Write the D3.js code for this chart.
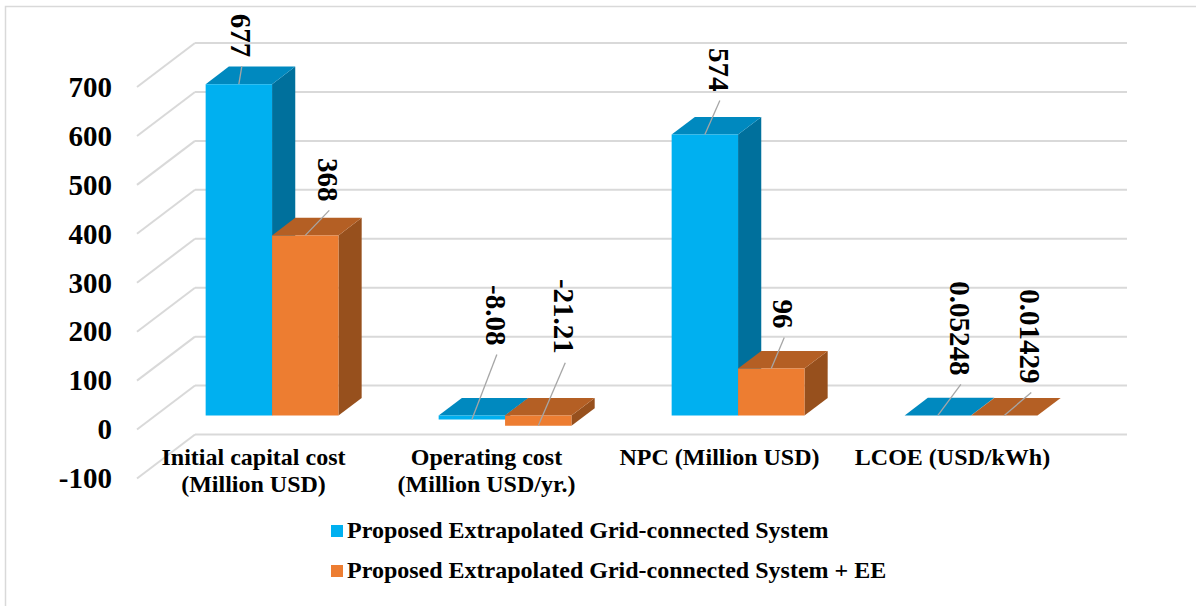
<!DOCTYPE html>
<html>
<head>
<meta charset="utf-8">
<script src="https://cdn.jsdelivr.net/npm/d3@7"></script>
</head>
<body style="margin:0;padding:0;background:#ffffff">
<svg id="chart" width="1196" height="606"></svg>
<script>
// ---- data ----
const categories = [
  "Initial capital cost (Million USD)",
  "Operating cost (Million USD/yr.)",
  "NPC (Million USD)",
  "LCOE (USD/kWh)"
];
const categoryLines = [
  ["Initial capital cost", "(Million USD)"],
  ["Operating cost", "(Million USD/yr.)"],
  ["NPC (Million USD)"],
  ["LCOE (USD/kWh)"]
];
const seriesNames = [
  "Proposed Extrapolated Grid-connected System",
  "Proposed Extrapolated Grid-connected System + EE"
];
const gridSystem = [677, -8.08, 574, 0.05248];
const gridSystemEE = [368, -21.21, 96, 0.01429];
const yTicks = [-100, 0, 100, 200, 300, 400, 500, 600, 700];

// ---- layout & style ----
const FONT = "Liberation Serif";
const frontLeft = 137, frontRight = 1069;      // front plane of the floor
const depthX = 58, depthY = -44;                // full depth offset of the box
const barD0 = 0.32, barD1 = 0.72;               // bar slab within the depth
const palette = [
  { front: "#00B0F0", top: "#0089BF", side: "#00709C" },
  { front: "#ED7D31", top: "#B45F24", side: "#97501D" }
];
// data-label placement (label foot relative to the leader start)
const labelNudge = [
  [[2, -27], [24, -74], [14, -43], [22, -40]],
  [[23, -34], [26, -72], [12, -40], [26, -32]]
];

const svg = d3.select("#chart").style("display", "block");

// outer frame
svg.append("rect")
  .attr("x", 5.5).attr("y", 6.5)
  .attr("width", 1230).attr("height", 640)
  .attr("fill", "none").attr("stroke", "#d9d9d9").attr("stroke-width", 1.5);

const y = d3.scaleLinear().domain([-100, 700]).range([478.5, 87]);
const x0 = d3.scaleBand().domain(categories).range([frontLeft, frontRight])
  .paddingInner(0.43).paddingOuter(0.215);
const x1 = d3.scaleBand().domain(d3.range(seriesNames.length)).range([0, x0.bandwidth()]);

const proj = (x, v, d) => [x + d * depthX, y(v) + d * depthY];

// back wall gridlines and side wall diagonals
const grid = svg.append("g").attr("stroke", "#d9d9d9").attr("stroke-width", 2).attr("fill", "none");
yTicks.forEach(t => {
  const [bx, by] = proj(frontLeft, t, 1);
  const [ex] = proj(frontRight, t, 1);
  grid.append("line").attr("x1", frontLeft).attr("y1", y(t)).attr("x2", bx).attr("y2", by);
  grid.append("line").attr("x1", bx).attr("y1", by).attr("x2", ex).attr("y2", by);
});

// value axis labels on the front plane
const axis = d3.axisLeft(y).tickValues(yTicks).tickSize(0).tickPadding(25).tickFormat(d => String(d));
const axisG = svg.append("g").attr("transform", `translate(${frontLeft},0)`).call(axis);
axisG.select(".domain").remove();
axisG.selectAll("text")
  .style("font-family", FONT).style("font-weight", "bold").style("font-size", "29px")
  .attr("fill", "#000");

// bars
const series = [gridSystem, gridSystemEE];
const barsG = svg.append("g");
const labelsG = svg.append("g");
const pts = arr => arr.map(p => p.join(",")).join(" ");

categories.forEach((cat, ci) => {
  series.forEach((vals, si) => {
    const v = vals[ci];
    const xl = x0(cat) + x1(si);
    const xr = xl + x1.bandwidth();
    const vt = Math.max(v, 0), vb = Math.min(v, 0);
    const col = palette[si];
    const g = barsG.append("g");
    // right side
    g.append("polygon").attr("fill", col.side).attr("points", pts([
      proj(xr, vt, barD0), proj(xr, vt, barD1), proj(xr, vb, barD1), proj(xr, vb, barD0)
    ]));
    // top
    g.append("polygon").attr("fill", col.top).attr("points", pts([
      proj(xl, vt, barD0), proj(xr, vt, barD0), proj(xr, vt, barD1), proj(xl, vt, barD1)
    ]));
    // front
    g.append("polygon").attr("fill", col.front).attr("points", pts([
      proj(xl, vt, barD0), proj(xr, vt, barD0), proj(xr, vb, barD0), proj(xl, vb, barD0)
    ]));

    // leader line and rotated value label
    const start = proj((xl + xr) / 2, v >= 0 ? vt : vb, barD0);
    const [ndx, ndy] = labelNudge[si][ci];
    const lx = start[0] + ndx, ly = start[1] + ndy;
    labelsG.append("line")
      .attr("x1", start[0]).attr("y1", start[1])
      .attr("x2", lx + 1).attr("y2", ly + 9)
      .attr("stroke", "#a6a6a6").attr("stroke-width", 1.3);
    labelsG.append("text")
      .attr("transform", `translate(${lx},${ly}) rotate(90)`)
      .attr("text-anchor", "end").attr("dy", "0.35em")
      .style("font-family", FONT).style("font-weight", "bold").style("font-size", "29px")
      .attr("fill", "#000")
      .text(String(v));
  });
});

// category labels
categories.forEach((cat, ci) => {
  const cx = x0(cat) + x0.bandwidth() / 2;
  const t = svg.append("text").attr("x", cx).attr("y", 465)
    .attr("text-anchor", "middle").attr("fill", "#000")
    .style("font-family", FONT).style("font-weight", "bold").style("font-size", "24px");
  categoryLines[ci].forEach((line, li) => {
    t.append("tspan").attr("x", cx).attr("dy", li === 0 ? 0 : 27).text(line);
  });
});

// legend
seriesNames.forEach((name, si) => {
  const base = 538 + si * 40;
  svg.append("rect").attr("x", 331).attr("y", base - 13).attr("width", 12).attr("height", 12)
    .attr("fill", palette[si].front);
  svg.append("text").attr("x", 347).attr("y", base).attr("fill", "#000")
    .style("font-family", FONT).style("font-weight", "bold").style("font-size", "24px")
    .text(name);
});
</script>
</body>
</html>
